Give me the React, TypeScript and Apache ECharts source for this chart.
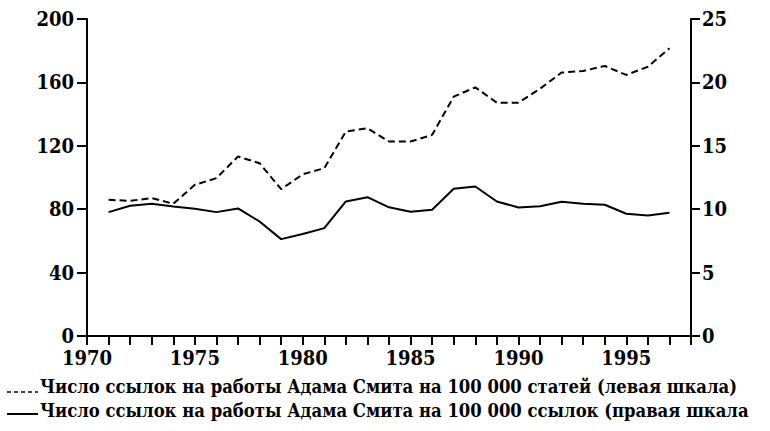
import React, { useEffect, useRef } from "react";
import * as echarts from "echarts";

const years = [1971,1972,1973,1974,1975,1976,1977,1978,1979,1980,1981,1982,1983,1984,1985,1986,1987,1988,1989,1990,1991,1992,1993,1994,1995,1996,1997];
const perArticles = [85.9,85.3,87.0,83.4,95.4,99.6,113.2,109.0,92.6,102.0,105.9,129.0,131.1,122.7,122.7,126.9,151.0,156.9,147.2,147.2,156.0,166.2,167.2,170.4,164.7,169.9,181.5];
const perCitations = [9.77,10.27,10.43,10.21,10.03,9.77,10.06,9.03,7.64,8.04,8.51,10.61,10.95,10.15,9.8,9.95,11.61,11.79,10.61,10.14,10.24,10.58,10.43,10.35,9.64,9.5,9.72];
const legendLabels = [
  "Число ссылок на работы Адама Смита на 100 000 статей (левая шкала)",
  "Число ссылок на работы Адама Смита на 100 000 ссылок (правая шкала",
];

const FONT = "DejaVu Serif Condensed";

export default function App() {
  const ref = useRef<HTMLDivElement>(null);
  useEffect(() => {
    const chart = echarts.init(ref.current!, null, { renderer: "svg" });
    const axisLine = { show: true, lineStyle: { color: "#000", width: 2 } };
    const labelStyle = { color: "#000", fontFamily: FONT, fontWeight: "bold" as const, fontSize: 20 };
    chart.setOption({
      animation: false,
      backgroundColor: "#fff",
      grid: { left: 87, right: 79, top: 19, bottom: 95 },
      xAxis: {
        type: "value",
        min: 1970,
        max: 1998,
        interval: 1,
        axisLine,
        axisTick: { show: true, inside: false, length: 9, lineStyle: { color: "#000", width: 2 } },
        axisLabel: {
          ...labelStyle,
          margin: 12,
          formatter: (v: number) => (v % 5 === 0 && v < 1998 ? String(v) : ""),
        },
        splitLine: { show: false },
      },
      yAxis: [
        {
          type: "value",
          min: 0,
          max: 200,
          interval: 40,
          position: "left",
          axisLine,
          axisTick: { show: true, length: 10, lineStyle: { color: "#000", width: 2 } },
          axisLabel: { ...labelStyle, margin: 13 },
          splitLine: { show: false },
        },
        {
          type: "value",
          min: 0,
          max: 25,
          interval: 5,
          position: "right",
          axisLine,
          axisTick: { show: true, length: 9, lineStyle: { color: "#000", width: 2 } },
          axisLabel: { ...labelStyle, margin: 11 },
          splitLine: { show: false },
        },
      ],
      series: [
        {
          name: legendLabels[0],
          type: "line",
          yAxisIndex: 0,
          data: years.map((y, i) => [y, perArticles[i]]),
          symbol: "none",
          lineStyle: { color: "#000", width: 2, type: [7, 4] },
        },
        {
          name: legendLabels[1],
          type: "line",
          yAxisIndex: 1,
          data: years.map((y, i) => [y, perCitations[i]]),
          symbol: "none",
          lineStyle: { color: "#000", width: 2, type: "solid" },
        },
      ],
      graphic: [
        { type: "line", shape: { x1: 7, y1: 392, x2: 38, y2: 392 }, style: { stroke: "#000", lineWidth: 1.5, lineDash: [4, 3] } },
        { type: "text", x: 40, y: 386, style: { text: legendLabels[0], fill: "#000", fontFamily: FONT, fontWeight: "bold", fontSize: 18.3, verticalAlign: "middle" } },
        { type: "line", shape: { x1: 7, y1: 414, x2: 38, y2: 414 }, style: { stroke: "#000", lineWidth: 2 } },
        { type: "text", x: 40, y: 410, style: { text: legendLabels[1], fill: "#000", fontFamily: FONT, fontWeight: "bold", fontSize: 18.3, verticalAlign: "middle" } },
      ],
    });
    return () => chart.dispose();
  }, []);
  return <div ref={ref} style={{ position: "fixed", left: 0, top: 0, width: 770, height: 431 }} />;
}
